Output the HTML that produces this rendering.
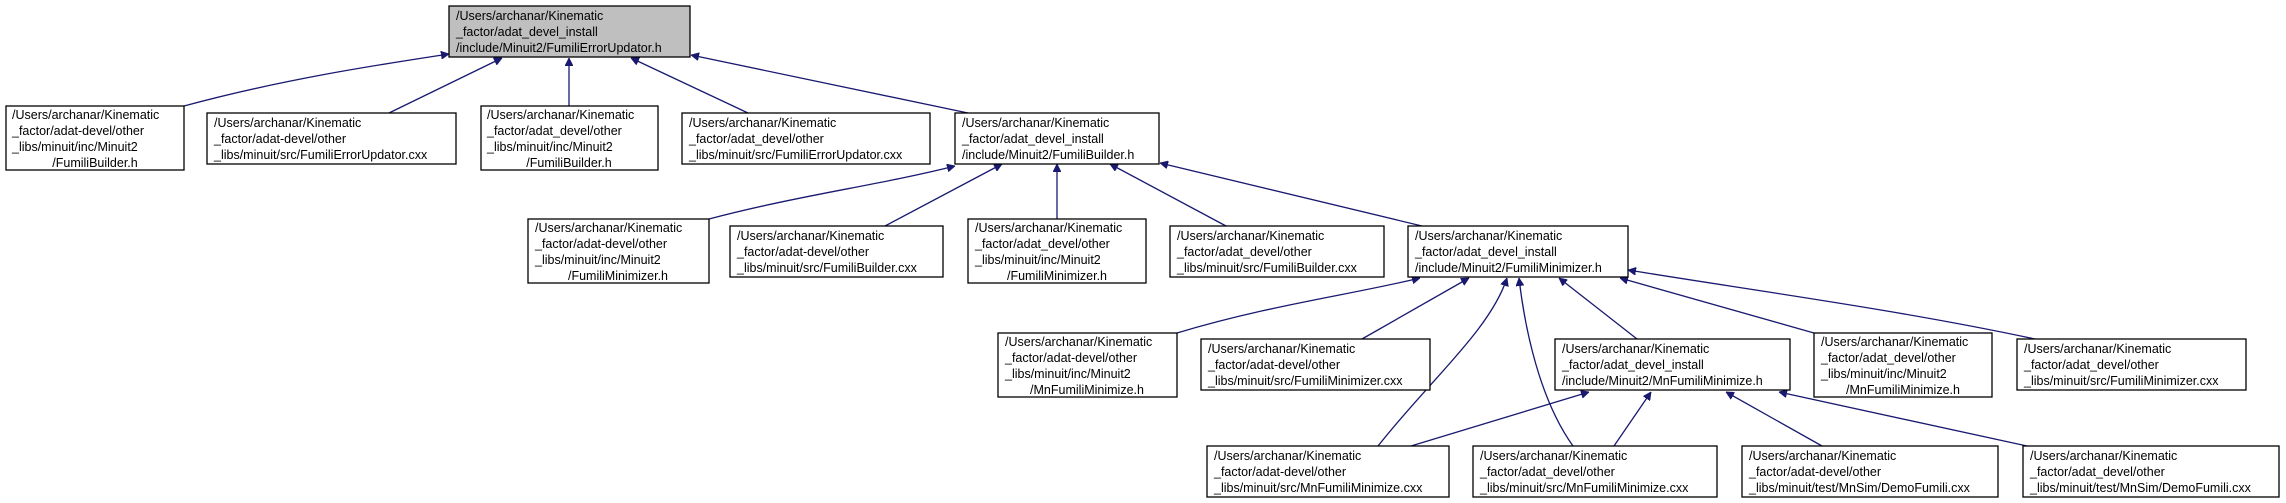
<!DOCTYPE html>
<html><head><meta charset="utf-8"><style>
html,body{margin:0;padding:0;background:#fff;}
svg{display:block;}
text{font-family:"Liberation Sans",Arial,sans-serif;font-size:12.5px;fill:#000;}
rect{stroke:#000;stroke-width:1.3;fill:#fff;}
path.e{stroke:#191970;stroke-width:1.3;fill:none;marker-end:url(#ah);}
</style></head><body>
<svg width="2286" height="503" viewBox="0 0 2286 503" xmlns="http://www.w3.org/2000/svg">
<defs><marker id="ah" viewBox="0 0 10 10" refX="10" refY="5" markerWidth="8" markerHeight="8" markerUnits="userSpaceOnUse" orient="auto"><path d="M0,0 L10,5 L0,10 z" fill="#191970" stroke="#191970"/></marker></defs>

<!-- edges -->
<path class="e" d="M184,106 C280,80 370,66 449,54"/>
<path class="e" d="M389,113 L502,58"/>
<path class="e" d="M569,106 L569,58"/>
<path class="e" d="M748,113 L631,58"/>
<path class="e" d="M968,113 L691,55"/>

<path class="e" d="M709,219 C800,195 880,185 955,166"/>
<path class="e" d="M885,226 L1002,164"/>
<path class="e" d="M1057,219 L1057,164"/>
<path class="e" d="M1226,226 L1110,164"/>
<path class="e" d="M1422,226 L1160,163"/>

<path class="e" d="M1177,333 C1270,305 1350,295 1420,278"/>
<path class="e" d="M1362,339 L1469,278"/>
<path class="e" d="M1378,446 C1430,380 1490,330 1507,278"/>
<path class="e" d="M1573,446 C1540,400 1525,330 1519,278"/>
<path class="e" d="M1637,339 L1559,278"/>
<path class="e" d="M1814,333 L1620,278"/>
<path class="e" d="M2035,339 C1900,310 1750,290 1628,270"/>

<path class="e" d="M1411,446 L1589,392"/>
<path class="e" d="M1614,446 L1651,392"/>
<path class="e" d="M1822,446 L1726,392"/>
<path class="e" d="M2027,446 L1779,392"/>

<!-- root -->
<rect x="449" y="6" width="241" height="51" style="fill:#bfbfbf"/>
<text x="456" y="20">/Users/archanar/Kinematic</text><text x="456" y="36">_factor/adat_devel_install</text><text x="456" y="52">/include/Minuit2/FumiliErrorUpdator.h</text>

<!-- row1 -->
<rect x="6" y="106" width="178" height="64"/>
<text x="12" y="119">/Users/archanar/Kinematic</text><text x="12" y="135">_factor/adat-devel/other</text><text x="12" y="151">_libs/minuit/inc/Minuit2</text><text x="95" y="167" text-anchor="middle">/FumiliBuilder.h</text>

<rect x="207" y="113" width="249" height="51"/>
<text x="214" y="127">/Users/archanar/Kinematic</text><text x="214" y="143">_factor/adat-devel/other</text><text x="214" y="159">_libs/minuit/src/FumiliErrorUpdator.cxx</text>

<rect x="481" y="106" width="177" height="64"/>
<text x="487" y="119">/Users/archanar/Kinematic</text><text x="487" y="135">_factor/adat_devel/other</text><text x="487" y="151">_libs/minuit/inc/Minuit2</text><text x="569" y="167" text-anchor="middle">/FumiliBuilder.h</text>

<rect x="682" y="113" width="248" height="51"/>
<text x="689" y="127">/Users/archanar/Kinematic</text><text x="689" y="143">_factor/adat_devel/other</text><text x="689" y="159">_libs/minuit/src/FumiliErrorUpdator.cxx</text>

<rect x="955" y="113" width="204" height="51"/>
<text x="962" y="127">/Users/archanar/Kinematic</text><text x="962" y="143">_factor/adat_devel_install</text><text x="962" y="159">/include/Minuit2/FumiliBuilder.h</text>

<!-- row2 -->
<rect x="528" y="219" width="181" height="64"/>
<text x="535" y="232">/Users/archanar/Kinematic</text><text x="535" y="248">_factor/adat-devel/other</text><text x="535" y="264">_libs/minuit/inc/Minuit2</text><text x="618" y="280" text-anchor="middle">/FumiliMinimizer.h</text>

<rect x="730" y="226" width="213" height="51"/>
<text x="737" y="240">/Users/archanar/Kinematic</text><text x="737" y="256">_factor/adat-devel/other</text><text x="737" y="272">_libs/minuit/src/FumiliBuilder.cxx</text>

<rect x="968" y="219" width="178" height="64"/>
<text x="975" y="232">/Users/archanar/Kinematic</text><text x="975" y="248">_factor/adat_devel/other</text><text x="975" y="264">_libs/minuit/inc/Minuit2</text><text x="1057" y="280" text-anchor="middle">/FumiliMinimizer.h</text>

<rect x="1170" y="226" width="214" height="51"/>
<text x="1177" y="240">/Users/archanar/Kinematic</text><text x="1177" y="256">_factor/adat_devel/other</text><text x="1177" y="272">_libs/minuit/src/FumiliBuilder.cxx</text>

<rect x="1408" y="226" width="220" height="51"/>
<text x="1415" y="240">/Users/archanar/Kinematic</text><text x="1415" y="256">_factor/adat_devel_install</text><text x="1415" y="272">/include/Minuit2/FumiliMinimizer.h</text>

<!-- row3 -->
<rect x="998" y="333" width="179" height="64"/>
<text x="1005" y="346">/Users/archanar/Kinematic</text><text x="1005" y="362">_factor/adat-devel/other</text><text x="1005" y="378">_libs/minuit/inc/Minuit2</text><text x="1087" y="394" text-anchor="middle">/MnFumiliMinimize.h</text>

<rect x="1201" y="339" width="229" height="51"/>
<text x="1208" y="353">/Users/archanar/Kinematic</text><text x="1208" y="369">_factor/adat-devel/other</text><text x="1208" y="385">_libs/minuit/src/FumiliMinimizer.cxx</text>

<rect x="1555" y="339" width="235" height="51"/>
<text x="1562" y="353">/Users/archanar/Kinematic</text><text x="1562" y="369">_factor/adat_devel_install</text><text x="1562" y="385">/include/Minuit2/MnFumiliMinimize.h</text>

<rect x="1814" y="333" width="178" height="64"/>
<text x="1821" y="346">/Users/archanar/Kinematic</text><text x="1821" y="362">_factor/adat_devel/other</text><text x="1821" y="378">_libs/minuit/inc/Minuit2</text><text x="1903" y="394" text-anchor="middle">/MnFumiliMinimize.h</text>

<rect x="2017" y="339" width="229" height="51"/>
<text x="2024" y="353">/Users/archanar/Kinematic</text><text x="2024" y="369">_factor/adat_devel/other</text><text x="2024" y="385">_libs/minuit/src/FumiliMinimizer.cxx</text>

<!-- row4 -->
<rect x="1207" y="446" width="242" height="51"/>
<text x="1214" y="460">/Users/archanar/Kinematic</text><text x="1214" y="476">_factor/adat-devel/other</text><text x="1214" y="492">_libs/minuit/src/MnFumiliMinimize.cxx</text>

<rect x="1473" y="446" width="244" height="51"/>
<text x="1480" y="460">/Users/archanar/Kinematic</text><text x="1480" y="476">_factor/adat_devel/other</text><text x="1480" y="492">_libs/minuit/src/MnFumiliMinimize.cxx</text>

<rect x="1742" y="446" width="256" height="51"/>
<text x="1749" y="460">/Users/archanar/Kinematic</text><text x="1749" y="476">_factor/adat-devel/other</text><text x="1749" y="492">_libs/minuit/test/MnSim/DemoFumili.cxx</text>

<rect x="2023" y="446" width="256" height="51"/>
<text x="2030" y="460">/Users/archanar/Kinematic</text><text x="2030" y="476">_factor/adat_devel/other</text><text x="2030" y="492">_libs/minuit/test/MnSim/DemoFumili.cxx</text>
</svg>
</body></html>
